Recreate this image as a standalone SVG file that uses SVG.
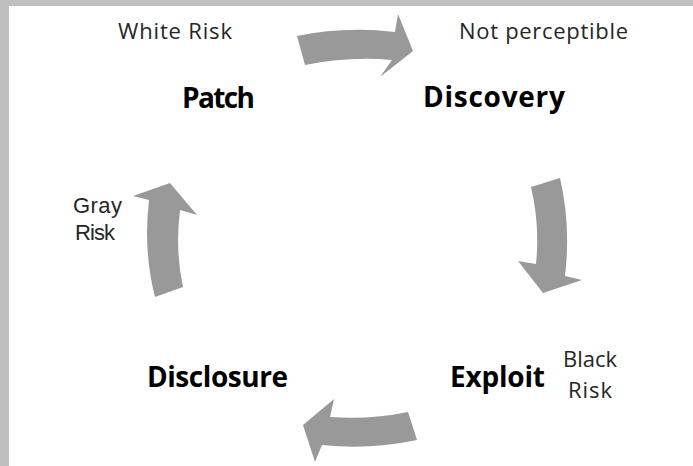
<svg xmlns="http://www.w3.org/2000/svg" width="693" height="466" viewBox="0 0 693 466">
<style>
.lbl{font-family:"Open Sans","Liberation Sans",sans-serif;font-size:22px;fill:#262626;text-anchor:middle}
.lbl2{font-family:"Liberation Sans","Open Sans",sans-serif;font-size:22px;fill:#262626;text-anchor:middle}
.stage{font-family:"Open Sans","Liberation Sans",sans-serif;font-size:28px;font-weight:bold;fill:#000;text-anchor:middle}
.arr{fill:#999999;stroke:none}
</style>
<rect x="0" y="0" width="693" height="466" fill="#ffffff"/>
<rect x="0" y="0" width="693" height="6" fill="#bfbfbf"/>
<rect x="0" y="0" width="9" height="466" fill="#bfbfbf"/>
<g id="connectors">
<path class="arr" d="M297,36 Q345,26 395,32 L398,14 L413,51 L380,77 L392,60 Q350,56 305,65 Z"/>
<path class="arr" d="M531,187 Q540,225 536,264 L518,261 L543,293 L582,280 L565,276 Q571,225 560,178 Z"/>
<path class="arr" d="M408,412 Q370,420 330,417 L334,399 L303,425 L315,462 L322,445 Q370,450 417,440 Z"/>
<path class="arr" d="M155,297 Q143,250 149,200 L133,196 L170,183 L197,215 L180,210 Q175,250 183,287 Z"/>
</g>
<g id="patch">
<text class="lbl" x="175" y="39" textLength="114">White Risk</text>
<text class="stage" x="218.5" y="108" textLength="73">Patch</text>
</g>
<g id="discovery">
<text class="lbl" x="543.5" y="39" textLength="169">Not perceptible</text>
<text class="stage" x="494" y="107" textLength="142">Discovery</text>
</g>
<g id="exploit">
<text class="stage" x="497.5" y="387" textLength="95">Exploit</text>
<text class="lbl" x="590" y="367" textLength="54">Black</text>
<text class="lbl" x="590" y="398" textLength="44">Risk</text>
</g>
<g id="disclosure">
<text class="stage" x="217.5" y="387" textLength="141">Disclosure</text>
</g>
<g id="gray-risk">
<text class="lbl2" x="97.5" y="213" textLength="49">Gray</text>
<text class="lbl2" x="95" y="240" textLength="40">Risk</text>
</g>
</svg>
